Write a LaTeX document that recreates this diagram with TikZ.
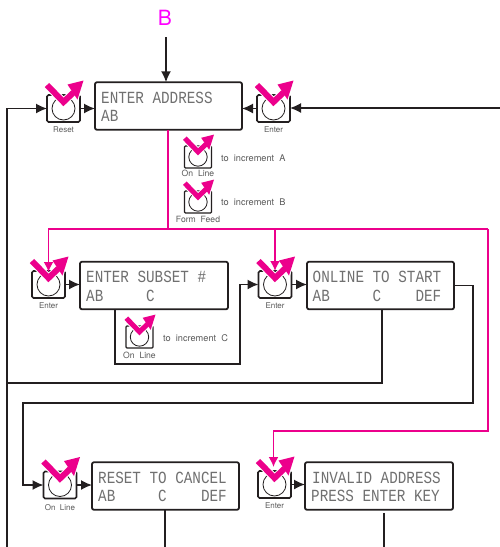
\documentclass[tikz,border=0pt]{standalone}
\usepackage{fontspec}
\usetikzlibrary{arrows.meta,calc}
\setmainfont[WordSpace=2]{TeX Gyre Heros}
\newfontfamily\lcdfont[FakeStretch=0.84]{Liberation Mono}
\definecolor{ink}{HTML}{231F20}
\definecolor{hot}{HTML}{EC008C}
\definecolor{mag}{HTML}{FF00FF}
\definecolor{txtgrey}{HTML}{5A5A5A}
\definecolor{lcdgrey}{HTML}{707070}
\tikzset{
  lcdbox/.style={draw=ink,line width=1.8pt,rounded corners=2pt,outer sep=0pt,inner sep=0pt,minimum height=47.5pt,fill=white},
  lcdtxt/.style={anchor=base west,inner sep=0pt,text=lcdgrey,font=\lcdfont\fontsize{17}{17}\selectfont},
  keybig/.style={draw=ink,line width=1.6pt,rounded corners=1.5pt,outer sep=0pt,inner sep=0pt,minimum width=33pt,minimum height=27pt},
  keysmall/.style={draw=ink,line width=1.4pt,rounded corners=1pt,outer sep=0pt,inner sep=0pt,minimum width=27pt,minimum height=22pt},
  keylabel/.style={inner sep=0pt,text=txtgrey,font=\fontsize{8}{8}\selectfont},
  keylabelsmall/.style={inner sep=0pt,text=txtgrey,font=\fontsize{8.6}{8.6}\selectfont},
  note/.style={anchor=base west,inner sep=0pt,text=txtgrey,font=\fontsize{9.2}{9.2}\selectfont},
  flow/.style={draw=ink,line width=1.6pt,line join=miter},
  flowarrow/.style={flow,-{Latex[length=11pt,width=10pt]}},
  hotline/.style={draw=hot,line width=1.8pt},
  hotarrow/.style={hotline,-{Latex[length=10pt,width=10pt]}},
}
% name, position, style, scale, stroke width, label, label offset, label style
\newcommand{\keybtn}[8]{%
  \node[#3] (#1) at #2 {};
  \begin{scope}[shift={(#1.center)},scale=#4]
    \draw[ink,line width=0.8pt] (0,0) circle (11.5);
    \draw[white,line width=#5pt+2pt,miter limit=10] (-16.5,-23.5)--(0,-6.5)--(10,-16);
    \fill[white,draw=white,line width=2pt] (4,-24)--(20,-28)--(14,-9)--cycle;
    \draw[hot,line width=#5pt,miter limit=10] (-16.5,-23.5)--(0,-6.5)--(10,-16);
    \fill[hot] (4,-24)--(20,-28)--(14,-9)--cycle;
  \end{scope}
  \node[#8] (#1l) at ($(#1.south)+(0,#7)$) {#6};
}
\begin{document}
\begin{tikzpicture}[x=1pt,y=-1pt]
\path[use as bounding box,fill=white] (0,0) rectangle (500,547);

% free ends
\coordinate (bstart) at (166,37);
\coordinate (leftbus) at (7,547);
\coordinate (rightin) at (500,108);
\coordinate (out4) at (165,547);
\coordinate (out5) at (384,547);
\coordinate (hotR) at (488,229);

% displays
\node[lcdbox,minimum width=147pt] (d1) at (168.5,106) {};
\node[lcdbox,minimum width=148pt] (d2) at (154,285.5) {};
\node[lcdbox,minimum width=147pt] (d3) at (380.5,285.5) {};
\node[lcdbox,minimum width=147pt] (d4) at (165.5,486) {};
\node[lcdbox,minimum width=148pt] (d5) at (379,486) {};

\node[lcdtxt] (t1a) at (101,103.5) {ENTER~ADDRESS};
\node[lcdtxt] (t1b) at (101,121.5) {AB};
\node[lcdtxt] (t2a) at (86,282.5) {ENTER~SUBSET~\#};
\node[lcdtxt] (t2b) at (86,301.5) {AB~~~~~C};
\node[lcdtxt] (t3a) at (312.5,282.5) {ONLINE~TO~START};
\node[lcdtxt] (t3b) at (312.5,301.5) {AB~~~~~C~~~~DEF};
\node[lcdtxt] (t4a) at (98,483.5) {RESET~TO~CANCEL};
\node[lcdtxt] (t4b) at (98,501.5) {AB~~~~~C~~~~DEF};
\node[lcdtxt] (t5a) at (312,483.5) {INVALID~ADDRESS};
\node[lcdtxt] (t5b) at (311,501.5) {PRESS~ENTER~KEY};

% buttons
\keybtn{kreset}{(63.5,108.5)}{keybig}{1}{6}{Reset}{8}{keylabel}
\keybtn{kenter}{(273.5,108.5)}{keybig}{1}{6}{Enter}{8}{keylabel}
\keybtn{kola}{(198,157)}{keysmall}{0.8}{5}{On Line}{5.5}{keylabelsmall}
\keybtn{kolb}{(198,202)}{keysmall}{0.8}{5}{Form Feed}{6}{keylabelsmall}
\keybtn{kes}{(48.5,284.5)}{keybig}{1}{6}{Enter}{8}{keylabel}
\keybtn{kolc}{(139.5,337)}{keysmall}{0.8}{5}{On Line}{7}{keylabelsmall}
\keybtn{kon}{(275,284.5)}{keybig}{1}{6}{Enter}{8}{keylabel}
\keybtn{krc}{(60,485)}{keybig}{1}{6}{On Line}{9}{keylabel}
\keybtn{kin}{(274.5,484.5)}{keybig}{1}{6}{Enter}{8}{keylabel}

% notes
\node[note] (n1) at (221,161.5) {to increment A};
\node[note] (n2) at (221,205.5) {to increment B};
\node[note] (n3) at (163,341) {to increment C};

% title
\node[inner sep=0pt,text=mag,font=\fontsize{21}{21}\selectfont] (title) at (165,18) {B};

% black connectors
\draw[flowarrow] (bstart) -- (bstart |- d1.north);
\draw[flowarrow] (leftbus) -- (leftbus |- kreset.west) -- (kreset.west);
\draw[flowarrow] (kreset.east) -- (kreset.east -| d1.west);
\draw[flowarrow] (rightin) -- (kenter.east |- rightin);
\draw[flowarrow] (kenter.west) -- (kenter.west -| d1.east);
\draw[flowarrow] (kes.east) -- (kes.east -| d2.west);
\coordinate (d2out) at (115,309);
\draw[flowarrow] (d2out) -- (115,364) -- (240,364) -- (240,284.5) -- (kon.west);
\draw[flowarrow] (kon.east) -- (kon.east -| d3.west);
\draw[flow] (382,309) -- (382,383) -- (7,383);
\draw[flowarrow] (d3.east) -- (473,285.5) -- (473,403) -- (23,403) -- (23,485) -- (krc.west);
\draw[flowarrow] (krc.east) -- (krc.east -| d4.west);
\draw[flowarrow] (kin.east) -- (kin.east -| d5.west);
\draw[flow] (out4 |- d4.south) -- (out4);
\draw[flow] ($(out5 |- d5.south)+(0,3)$) -- (out5);

% magenta connectors
\draw[hotline] (168,129.5) -- (168,229);
\draw[hotarrow] (hotR) -- (48.5,229) -- (48.5,272);
\draw[hotarrow] (275,229) -- (275,271);
\draw[hotarrow] (hotR) -- (488,431) -- (273.5,431) -- (273.5,467);
\end{tikzpicture}
\end{document}
